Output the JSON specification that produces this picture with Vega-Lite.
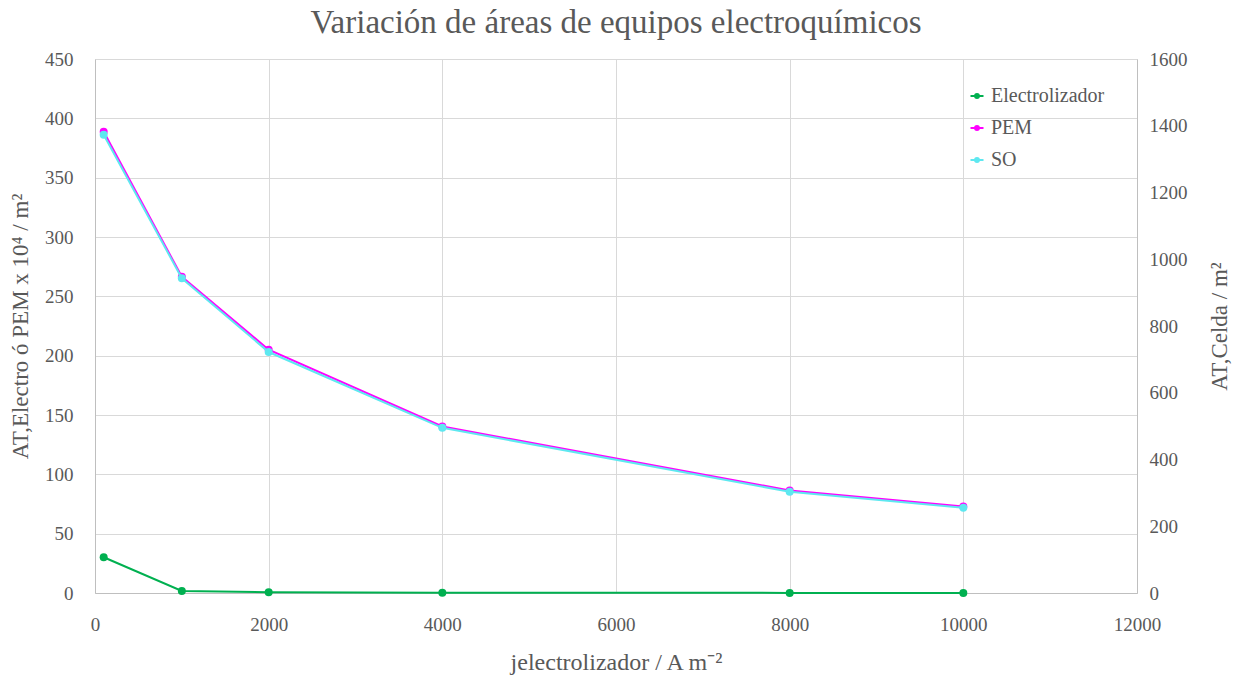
{
  "$schema": "https://vega.github.io/schema/vega-lite/v6.json",
  "width": 1042,
  "height": 534,
  "autosize": {"type": "none"},
  "padding": {"left": 95, "top": 59, "right": 108, "bottom": 92},
  "background": "white",
  "title": {"text": "Variación de áreas de equipos electroquímicos", "font": "Liberation Serif", "fontSize": 33, "fontWeight": "normal", "color": "#595959", "offset": 10},
  "config": {
    "view": {"stroke": null},
    "axis": {"labelFont": "Liberation Serif", "titleFont": "Liberation Serif", "labelFontSize": 19, "titleFontSize": 23, "labelColor": "#595959", "titleColor": "#595959", "titleFontWeight": "normal", "gridColor": "#d9d9d9", "domainColor": "#bfbfbf", "ticks": false, "labelFlush": false},
    "legend": {"labelFont": "Liberation Serif", "labelFontSize": 20, "labelColor": "#595959"}
  },
  "data": {"values": [
    {"serie": "Electrolizador", "j": 100, "A": 30.1},
    {"serie": "Electrolizador", "j": 1000, "A": 1.7},
    {"serie": "Electrolizador", "j": 2000, "A": 0.6},
    {"serie": "Electrolizador", "j": 4000, "A": 0.2},
    {"serie": "Electrolizador", "j": 8000, "A": 0.1},
    {"serie": "Electrolizador", "j": 10000, "A": 0.1},
    {"serie": "PEM", "j": 100, "A": 388.7},
    {"serie": "PEM", "j": 1000, "A": 266.5},
    {"serie": "PEM", "j": 2000, "A": 205},
    {"serie": "PEM", "j": 4000, "A": 140.3},
    {"serie": "PEM", "j": 8000, "A": 86.4},
    {"serie": "PEM", "j": 10000, "A": 72.9},
    {"serie": "SO", "j": 100, "A": 1373},
    {"serie": "SO", "j": 1000, "A": 943},
    {"serie": "SO", "j": 2000, "A": 722},
    {"serie": "SO", "j": 4000, "A": 495},
    {"serie": "SO", "j": 8000, "A": 303.5},
    {"serie": "SO", "j": 10000, "A": 255.6}
  ]},
  "encoding": {
    "x": {"field": "j", "type": "quantitative", "scale": {"domain": [0, 12000], "nice": false},
      "axis": {"values": [0, 2000, 4000, 6000, 8000, 10000, 12000], "format": "d", "title": "jelectrolizador / A m⁻²", "labelPadding": 22, "titlePadding": 16, "titleFontSize": 24}},
    "color": {"field": "serie", "type": "nominal",
      "scale": {"domain": ["Electrolizador", "PEM", "SO"], "range": ["#00b050", "#ff00ff", "#5ee8f0"]},
      "legend": {"title": null, "orient": "none", "legendX": 872, "legendY": 27, "rowPadding": 12, "symbolType": "M-1,0H1M0.3,0A0.3,0.3 0 1 1 -0.3,0A0.3,0.3 0 1 1 0.3,0", "symbolSize": 169, "symbolStrokeWidth": 2, "labelOffset": 4,
        "encode": {"symbols": {"update": {"stroke": {"scale": "color", "field": "value"}, "fill": {"scale": "color", "field": "value"}, "strokeWidth": {"value": 2}}}}}}
  },
  "layer": [
    {
      "transform": [{"filter": "datum.serie !== 'SO'"}],
      "mark": {"type": "line", "point": {"filled": true, "size": 64}, "strokeWidth": 2},
      "encoding": {
        "y": {"field": "A", "type": "quantitative", "scale": {"domain": [0, 450], "nice": false},
          "axis": {"values": [0, 50, 100, 150, 200, 250, 300, 350, 400, 450], "title": "AT,Electro ó PEM x 10⁴ / m²", "labelPadding": 22, "titlePadding": 12}}
      }
    },
    {
      "transform": [{"filter": "datum.serie === 'SO'"}],
      "mark": {"type": "line", "point": {"filled": true, "size": 64}, "strokeWidth": 2},
      "encoding": {
        "y": {"field": "A", "type": "quantitative", "scale": {"domain": [0, 1600], "nice": false},
          "axis": {"orient": "right", "values": [0, 200, 400, 600, 800, 1000, 1200, 1400, 1600], "format": "d", "grid": false, "title": "AT,Celda / m²", "titleAngle": 270, "labelPadding": 12, "titlePadding": 44}}
      }
    }
  ],
  "resolve": {"scale": {"y": "independent"}}
}
